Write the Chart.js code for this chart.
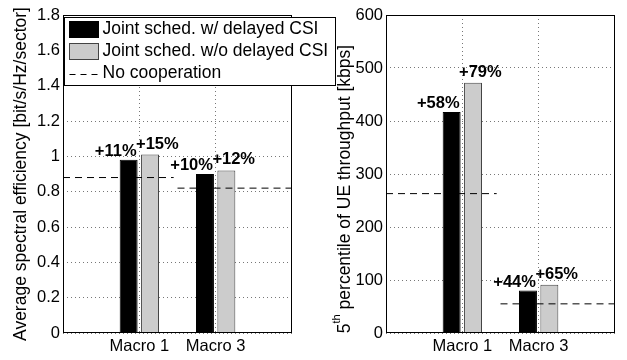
<!DOCTYPE html>
<html lang="en">
<head>
  <meta charset="UTF-8">
  <title>Joint scheduling gains</title>
  <script src="https://cdn.jsdelivr.net/npm/chart.js"></script>
  <style>
    body { margin: 0; background: #fff; }
    #left { position: absolute; left: 0; top: 0; z-index: 2; }
    #right { position: absolute; left: 320px; top: 0; z-index: 1; }
  </style>
</head>
<body>
  <canvas id="left" width="340" height="360"></canvas>
  <canvas id="right" width="307" height="360"></canvas>

  <script>
    const categories = ['Macro 1', 'Macro 3'];

    // average spectral efficiency [bit/s/Hz/sector]
    const seDelayed = [0.98, 0.90];
    const seNoDelay = [1.01, 0.92];
    const seNoCoop = [0.88, 0.82];
    const seDelayedGain = ['+11%', '+10%'];
    const seNoDelayGain = ['+15%', '+12%'];

    // 5th percentile UE throughput [kbps]
    const tpDelayed = [417, 80];
    const tpNoDelay = [472, 91];
    const tpNoCoop = [263, 55];
    const tpDelayedGain = ['+58%', '+44%'];
    const tpNoDelayGain = ['+79%', '+65%'];

    // x range (axis units) covered by each "no cooperation" reference line
    const noCoopSpan = [[0, 1.45], [1.5, 3]];

    const FONT = '"Liberation Sans", Arial, Helvetica, sans-serif';
    Chart.defaults.font.family = FONT;
    Chart.defaults.color = '#000';

    function barData(vals) {
      return vals.map((v, i) => ({ x: i + 1, y: v }));
    }

    function refLine(vals) {
      const pts = [];
      vals.forEach((v, i) => {
        if (i > 0) pts.push({ x: (noCoopSpan[i - 1][1] + noCoopSpan[i][0]) / 2, y: null });
        pts.push({ x: noCoopSpan[i][0], y: v }, { x: noCoopSpan[i][1], y: v });
      });
      return pts;
    }

    // percentage labels above the bars
    const gainLabels = {
      id: 'gainLabels',
      afterDatasetsDraw(chart) {
        const ctx = chart.ctx;
        ctx.save();
        ctx.font = 'bold 16.5px ' + FONT;
        ctx.fillStyle = '#000';
        ctx.textBaseline = 'alphabetic';
        chart.data.datasets.forEach((ds, di) => {
          if (!ds.gains) return;
          chart.getDatasetMeta(di).data.forEach((bar, i) => {
            const half = bar.width / 2;
            if (di === 0) {
              ctx.textAlign = 'right';
              ctx.fillText(ds.gains[i], bar.x + half - 1, bar.y - 4);
            } else {
              ctx.textAlign = 'left';
              ctx.fillText(ds.gains[i], bar.x - half - 5, bar.y - 6);
            }
          });
        });
        ctx.restore();
      }
    };

    // box around the plot area (matlab "box on")
    const frame = {
      id: 'frame',
      afterDraw(chart) {
        const a = chart.chartArea;
        const ctx = chart.ctx;
        ctx.save();
        ctx.strokeStyle = '#000';
        ctx.lineWidth = 1;
        ctx.strokeRect(Math.round(a.left) + 0.5, Math.round(a.top) + 0.5,
                       Math.round(a.right - a.left) - 1, Math.round(a.bottom - a.top) - 1);
        ctx.restore();
      }
    };

    // legend drawn as a boxed list inside the left plot
    const boxLegend = {
      id: 'boxLegend',
      afterDraw(chart) {
        const ctx = chart.ctx;
        const x0 = Math.round(chart.chartArea.left) + 1.5;
        const y0 = Math.round(chart.chartArea.top) + 2.5;
        const rowH = 22;
        ctx.save();
        ctx.fillStyle = '#fff';
        ctx.strokeStyle = '#000';
        ctx.lineWidth = 1;
        ctx.fillRect(x0, y0, 271, 68);
        ctx.strokeRect(x0, y0, 271, 68);
        ctx.font = '17.5px ' + FONT;
        ctx.textBaseline = 'middle';
        ctx.textAlign = 'left';
        chart.data.datasets.forEach((ds, i) => {
          const cy = y0 + 12 + rowH * i;
          if (ds.type === 'line') {
            ctx.setLineDash([6, 5]);
            ctx.strokeStyle = ds.borderColor;
            ctx.beginPath();
            ctx.moveTo(x0 + 5, Math.round(cy) + 0.5);
            ctx.lineTo(x0 + 34, Math.round(cy) + 0.5);
            ctx.stroke();
            ctx.setLineDash([]);
          } else {
            ctx.fillStyle = ds.backgroundColor;
            ctx.fillRect(x0 + 5, cy - 8, 29, 16);
            ctx.strokeStyle = ds.borderColor;
            ctx.strokeRect(x0 + 5, cy - 8, 29, 16);
          }
          ctx.fillStyle = '#000';
          ctx.fillText(ds.label, x0 + 38, cy);
        });
        ctx.restore();
      }
    };

    // right y-axis title, needs a superscript
    const rightTitle = {
      id: 'rightTitle',
      afterDraw(chart) {
        const ctx = chart.ctx;
        const main = '17.5px ' + FONT;
        const sup = '11px ' + FONT;
        const rest = ' percentile of UE throughput [kbps]';
        ctx.save();
        ctx.font = main;
        const w5 = ctx.measureText('5').width;
        const wr = ctx.measureText(rest).width;
        ctx.font = sup;
        const wt = ctx.measureText('th').width;
        const total = w5 + wt + wr;
        ctx.translate(25, 189);
        ctx.rotate(-Math.PI / 2);
        ctx.fillStyle = '#000';
        ctx.textBaseline = 'middle';
        ctx.textAlign = 'left';
        let x = -total / 2;
        ctx.font = main;
        ctx.fillText('5', x, 0);
        x += w5;
        ctx.font = sup;
        ctx.fillText('th', x, -8);
        x += wt;
        ctx.font = main;
        ctx.fillText(rest, x, 0);
        ctx.restore();
      }
    };

    function makeChart(id, cfg) {
      const datasets = [
        {
          label: 'Joint sched. w/ delayed CSI',
          data: barData(cfg.delayed),
          gains: cfg.delayedGain,
          backgroundColor: '#000',
          borderColor: '#000',
          borderWidth: 1,
          barPercentage: 0.84,
          categoryPercentage: 0.56,
          order: 1
        },
        {
          label: 'Joint sched. w/o delayed CSI',
          data: barData(cfg.noDelay),
          gains: cfg.noDelayGain,
          backgroundColor: '#cccccc',
          borderColor: '#444',
          borderWidth: 1,
          barPercentage: 0.84,
          categoryPercentage: 0.56,
          order: 1
        },
        {
          type: 'line',
          label: 'No cooperation',
          data: refLine(cfg.noCoop),
          borderColor: '#000',
          borderWidth: 1,
          borderDash: [7, 5],
          pointRadius: 0,
          fill: false,
          order: 0
        }
      ];

      return new Chart(document.getElementById(id), {
        type: 'bar',
        data: { datasets },
        options: {
          responsive: false,
          animation: false,
          events: [],
          layout: { padding: { top: 15, right: cfg.padRight, bottom: 0, left: 0 } },
          plugins: { legend: { display: false }, tooltip: { enabled: false } },
          scales: {
            x: {
              type: 'linear',
              min: 0,
              max: 3,
              offset: false,
              afterBuildTicks: s => { s.ticks = categories.map((c, i) => ({ value: i + 1 })); },
              ticks: {
                callback: v => categories[v - 1],
                font: { size: 16.5 },
                padding: 4,
                autoSkip: false,
                maxRotation: 0
              },
              grid: { offset: false, color: '#777', drawTicks: false },
              border: { display: false, dash: [1, 3] },
              afterFit: s => { s.height = 27; }
            },
            y: {
              min: 0,
              max: cfg.yMax,
              ticks: {
                stepSize: cfg.yStep,
                font: { size: 16.5 },
                padding: 3,
                callback: v => String(Math.round(v * 10) / 10)
              },
              grid: { color: '#777', drawTicks: false },
              border: { display: false, dash: [1, 3] },
              title: cfg.yTitle
                ? { display: true, text: cfg.yTitle, font: { size: 17.5 }, padding: { top: 11, bottom: 0 } }
                : { display: false },
              afterFit: s => { s.width = cfg.axisWidth; }
            }
          }
        },
        plugins: [gainLabels, frame].concat(cfg.extra)
      });
    }

    makeChart('left', {
      delayed: seDelayed, noDelay: seNoDelay, noCoop: seNoCoop,
      delayedGain: seDelayedGain, noDelayGain: seNoDelayGain,
      yMax: 1.8, yStep: 0.2,
      yTitle: 'Average spectral efficiency [bit/s/Hz/sector]',
      axisWidth: 63, padRight: 48,
      extra: [boxLegend]
    });

    makeChart('right', {
      delayed: tpDelayed, noDelay: tpNoDelay, noCoop: tpNoCoop,
      delayedGain: tpDelayedGain, noDelayGain: tpNoDelayGain,
      yMax: 600, yStep: 100,
      yTitle: null,
      axisWidth: 66, padRight: 12,
      extra: [rightTitle]
    });
  </script>
</body>
</html>
